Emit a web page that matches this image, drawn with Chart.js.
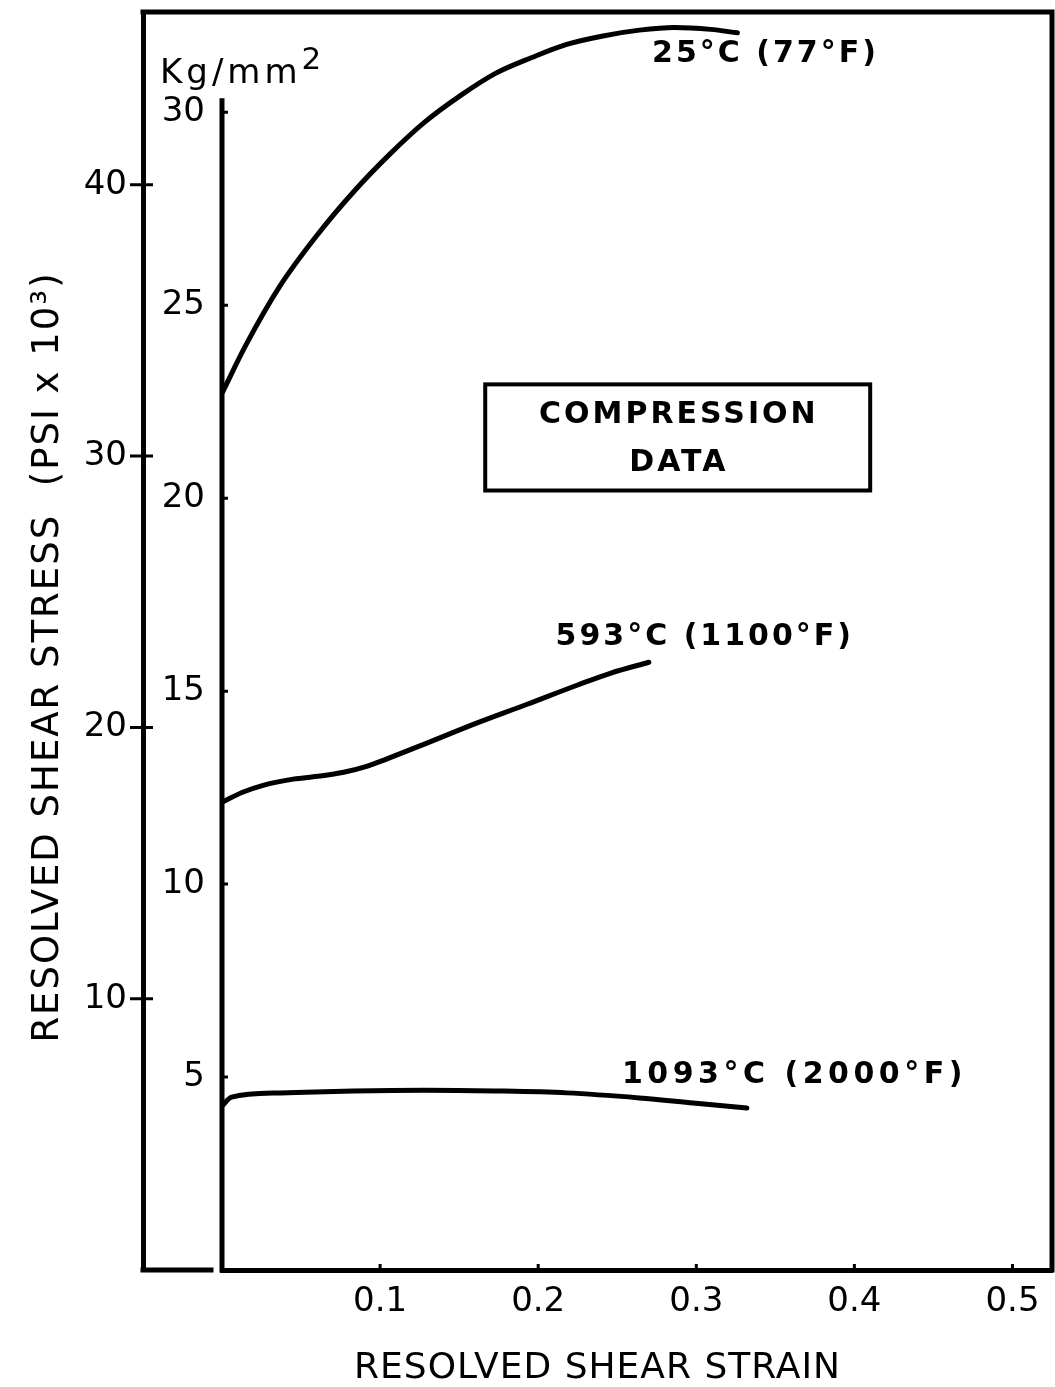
<!DOCTYPE html>
<html>
<head>
<meta charset="utf-8">
<script src="https://cdn.jsdelivr.net/npm/chart.js@4"></script>
<style>
  html, body { margin: 0; padding: 0; background: #fff; }
  #wrap { width: 1055px; height: 1387px; }
</style>
</head>
<body>
<div id="wrap"><canvas id="stressChart" width="1055" height="1387"></canvas></div>
<script>
// resolved shear strain vs resolved shear stress (kg/mm2)
const strain25 = [0, 0.015, 0.037, 0.060, 0.083, 0.106, 0.128, 0.151, 0.173, 0.196, 0.218, 0.241, 0.264, 0.286, 0.309, 0.326];
const stress25 = [22.72, 23.96, 25.52, 26.81, 27.93, 28.91, 29.74, 30.44, 31.01, 31.42, 31.76, 31.98, 32.13, 32.2, 32.15, 32.06];

const strain593 = [0, 0.013, 0.026, 0.045, 0.062, 0.077, 0.092, 0.104, 0.130, 0.161, 0.193, 0.225, 0.246, 0.270];
const stress593 = [12.12, 12.38, 12.56, 12.72, 12.8, 12.9, 13.06, 13.24, 13.66, 14.17, 14.66, 15.16, 15.47, 15.75];

const strain1093 = [0, 0.006, 0.037, 0.083, 0.128, 0.173, 0.218, 0.264, 0.298, 0.332];
const stress1093 = [4.25, 4.48, 4.59, 4.64, 4.66, 4.64, 4.59, 4.46, 4.33, 4.2];

const xTicks = [0.1, 0.2, 0.3, 0.4, 0.5];
const kgTicks = [5, 10, 15, 20, 25, 30];
const psiTicks = [10, 20, 30, 40];

const KG_MAX = 32.6;
const KG_TO_KSI = 1.42233;
const X_MAX = 0.525;
const KG_AXIS_TOP = 30.3;

const FONT = "'DejaVu Sans', sans-serif";

// curve labels and the boxed note, anchored in data units
const notes = [
  { text: '25°C (77°F)', x: 0.272, y: 31.5, align: 'left', spacing: 3 },
  { text: '593°C (1100°F)', x: 0.211, y: 16.4, align: 'left', spacing: 3 },
  { text: '1093°C (2000°F)', x: 0.253, y: 5.05, align: 'left', spacing: 4.5 },
  { text: 'COMPRESSION', x: 0.289, y: 22.15, align: 'center', spacing: 3 },
  { text: 'DATA', x: 0.289, y: 20.9, align: 'center', spacing: 3 }
];
const noteBox = { x0: 0.1665, x1: 0.410, y0: 20.2, y1: 22.95 };

function toPoints(xs, ys) {
  return xs.map((v, i) => ({ x: v, y: ys[i] }));
}

function curve(xs, ys) {
  return {
    data: toPoints(xs, ys),
    borderColor: '#000',
    borderWidth: 5,
    pointRadius: 0,
    fill: false,
    cubicInterpolationMode: 'monotone',
    borderCapStyle: 'round'
  };
}

function fixWidth(w) {
  return function (scale) {
    scale.width = w;
    scale.paddingTop = 0;
    scale.paddingBottom = 0;
  };
}

const paperPlugin = {
  id: 'paper',
  beforeDraw(chart) {
    const ctx = chart.ctx;
    ctx.save();
    ctx.fillStyle = '#fff';
    ctx.fillRect(0, 0, chart.width, chart.height);
    ctx.restore();
  },
  afterDraw(chart) {
    const { ctx, chartArea: a } = chart;
    const x = chart.scales.x, y = chart.scales.y, psi = chart.scales.psi;
    ctx.save();
    ctx.strokeStyle = '#000';
    ctx.fillStyle = '#000';
    ctx.lineWidth = 5;
    ctx.lineCap = 'square';

    // outer frame: top, right side and the stub left of the inner axis
    ctx.beginPath();
    ctx.moveTo(psi.right, a.top);
    ctx.lineTo(a.right, a.top);
    ctx.lineTo(a.right, a.bottom);
    ctx.moveTo(psi.right, a.bottom);
    ctx.lineTo(y.right - 11, a.bottom);
    ctx.stroke();

    // inner kg/mm2 axis line
    ctx.beginPath();
    ctx.moveTo(y.right, y.getPixelForValue(KG_AXIS_TOP));
    ctx.lineTo(y.right, a.bottom);
    ctx.stroke();

    // tick marks
    ctx.lineWidth = 3;
    ctx.lineCap = 'butt';
    ctx.beginPath();
    psiTicks.forEach(v => {
      const py = psi.getPixelForValue(v);
      ctx.moveTo(psi.right - 13, py);
      ctx.lineTo(psi.right + 10, py);
    });
    kgTicks.forEach(v => {
      const py = y.getPixelForValue(v);
      ctx.moveTo(y.right, py);
      ctx.lineTo(y.right + 6, py);
    });
    xTicks.forEach(v => {
      const px = x.getPixelForValue(v);
      ctx.moveTo(px, a.bottom);
      ctx.lineTo(px, a.bottom - 6);
    });
    ctx.stroke();

    ctx.textBaseline = 'middle';

    // Kg/mm2 unit above the inner axis
    const uy = y.getPixelForValue(31);
    ctx.textAlign = 'left';
    ctx.font = '34px ' + FONT;
    ctx.letterSpacing = '4px';
    ctx.fillText('Kg/mm', y.right - 62, uy);
    const uw = ctx.measureText('Kg/mm').width;
    ctx.letterSpacing = '0px';
    ctx.font = '31px ' + FONT;
    ctx.fillText('2', y.right - 62 + uw, uy - 13);

    // x axis title, centred on the whole frame
    ctx.font = '36px ' + FONT;
    ctx.letterSpacing = '1px';
    ctx.textAlign = 'center';
    ctx.fillText('RESOLVED SHEAR STRAIN', (psi.right + a.right) / 2, a.bottom + 99);

    // y axis title, rotated, left of the psi scale
    ctx.save();
    ctx.translate(psi.left + 26, (a.top + a.bottom) / 2 + 16);
    ctx.rotate(-Math.PI / 2);
    ctx.font = '37px ' + FONT;
    ctx.letterSpacing = '2px';
    ctx.fillText('RESOLVED SHEAR STRESS  (PSI x 10³)', 0, 0);
    ctx.restore();

    // curve labels and the boxed note
    ctx.font = 'bold 30px ' + FONT;
    notes.forEach(n => {
      ctx.letterSpacing = n.spacing + 'px';
      ctx.textAlign = n.align;
      ctx.fillText(n.text, x.getPixelForValue(n.x), y.getPixelForValue(n.y));
    });
    ctx.letterSpacing = '0px';
    ctx.lineWidth = 4;
    const bx0 = x.getPixelForValue(noteBox.x0), bx1 = x.getPixelForValue(noteBox.x1);
    const by0 = y.getPixelForValue(noteBox.y0), by1 = y.getPixelForValue(noteBox.y1);
    ctx.strokeRect(bx0, by1, bx1 - bx0, by0 - by1);

    ctx.restore();
  }
};

new Chart(document.getElementById('stressChart'), {
  type: 'line',
  data: {
    datasets: [
      curve(strain25, stress25),
      curve(strain593, stress593),
      curve(strain1093, stress1093)
    ]
  },
  options: {
    responsive: false,
    animation: false,
    layout: { padding: { top: 12, right: 3, left: 22, bottom: 0 } },
    plugins: {
      legend: { display: false },
      tooltip: { enabled: false }
    },
    scales: {
      x: {
        type: 'linear',
        position: 'bottom',
        min: 0,
        max: X_MAX,
        afterBuildTicks: s => { s.ticks = xTicks.map(v => ({ value: v })); },
        afterFit: s => { s.height = 117; s.paddingLeft = 0; s.paddingRight = 0; },
        grid: { drawOnChartArea: false, drawTicks: false },
        border: { display: true, color: '#000', width: 5 },
        ticks: {
          color: '#000',
          padding: 12,
          maxRotation: 0,
          font: { family: FONT, size: 34 },
          callback: v => v.toFixed(1)
        }
      },
      y: {
        type: 'linear',
        position: 'left',
        weight: 0,
        min: 0,
        max: KG_MAX,
        afterBuildTicks: s => { s.ticks = kgTicks.map(v => ({ value: v })); },
        afterFit: fixWidth(79),
        grid: { drawOnChartArea: false, drawTicks: false },
        border: { display: false },
        ticks: {
          color: '#000',
          padding: 17,
          font: { family: FONT, size: 34 }
        }
      },
      psi: {
        type: 'linear',
        position: 'left',
        weight: 1,
        min: 0,
        max: KG_MAX * KG_TO_KSI,
        afterBuildTicks: s => { s.ticks = psiTicks.map(v => ({ value: v })); },
        afterFit: fixWidth(121),
        grid: { drawOnChartArea: false, drawTicks: false },
        border: { display: true, color: '#000', width: 5 },
        ticks: {
          color: '#000',
          padding: 16,
          font: { family: FONT, size: 34 }
        }
      }
    }
  },
  plugins: [paperPlugin]
});
</script>
</body>
</html>
